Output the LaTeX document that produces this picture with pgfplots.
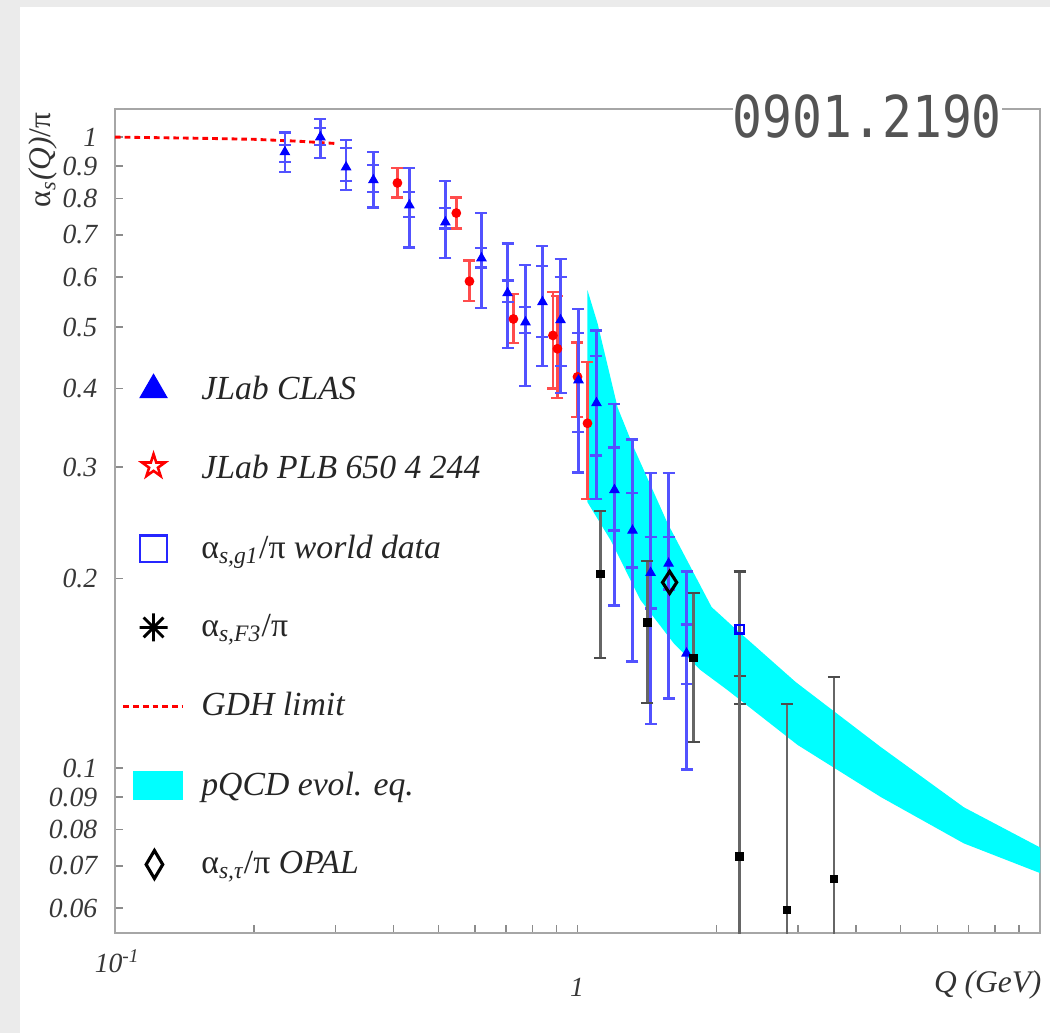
\documentclass[border=0pt]{standalone}
\usepackage{pgfplots}
\pgfplotsset{compat=1.18}
\usepackage{pgfplotstable}
\usepackage{fontspec}
\setmainfont{Liberation Serif}
\newfontfamily\labelmono[FakeStretch=0.86]{DejaVu Sans Mono}
\definecolor{bandcyan}{rgb}{0,1,1}
\definecolor{barblue}{rgb}{0.32,0.32,1}
\definecolor{barred}{rgb}{1,0.3,0.3}

% JLab CLAS: centre, outer (total) error range
\pgfplotstableread{
x y lo hi
0.233 0.947 0.880 1.018
0.278 1.000 0.926 1.068
0.316 0.896 0.824 0.989
0.362 0.855 0.774 0.947
0.433 0.780 0.669 0.893
0.518 0.733 0.643 0.852
0.620 0.643 0.536 0.758
0.706 0.566 0.463 0.679
0.772 0.509 0.403 0.627
0.840 0.548 0.434 0.672
0.919 0.513 0.393 0.641
1.005 0.412 0.294 0.534
1.099 0.379 0.267 0.494
1.202 0.276 0.181 0.3775
1.315 0.238 0.1477 0.332
1.439 0.204 0.1174 0.2935
1.574 0.211 0.129 0.2935
1.721 0.152 0.0996 0.205
}\clasouter
% JLab CLAS: inner (statistical) error range
\pgfplotstableread{
x y lo hi
0.233 0.947 0.913 0.971
0.278 1.000 0.971 1.033
0.316 0.896 0.852 0.961
0.362 0.855 0.818 0.903
0.433 0.780 0.747 0.818
0.518 0.733 0.717 0.772
0.620 0.643 0.622 0.667
0.706 0.566 0.548 0.593
0.772 0.509 0.489 0.538
0.840 0.548 0.482 0.625
0.919 0.513 0.434 0.600
1.005 0.412 0.341 0.489
1.099 0.379 0.313 0.450
1.202 0.276 0.238 0.322
1.315 0.238 0.208 0.273
1.439 0.204 0.179 0.2325
1.574 0.211 0.192 0.2325
1.721 0.152 0.136 0.169
}\clasinner
% JLab PLB 650 4 244
\pgfplotstableread{
x y lo hi
0.408 0.846 0.803 0.893
0.547 0.758 0.717 0.803
0.584 0.591 0.550 0.638
0.727 0.515 0.472 0.564
0.885 0.485 0.400 0.568
0.905 0.462 0.386 0.560
1.000 0.417 0.360 0.473
1.051 0.352 0.267 0.440
}\plb
% alpha_s,F3
\pgfplotstableread{
x y lo hi
1.121 0.203 0.1494 0.2555
1.417 0.170 0.1268 0.2128
1.783 0.1494 0.110 0.1894
2.242 0.0725 0.04 0.205
2.835 0.0596 0.04 0.1263
3.583 0.0667 0.04 0.1394
}\fthree
\pgfplotstableread{
x y lo hi
2.242 0.133 0.1263 0.140
}\fthreeinner

\begin{document}
\begin{tikzpicture}
\fill[black!8] (0,0) rectangle (367.5pt,361.55pt);
\fill[white] (7pt,0) rectangle (367.5pt,359.1pt);
\begin{axis}[
  at={(40.25pt,35pt)}, anchor=south west, scale only axis,
  width=323.75pt, height=288.4pt,
  xmode=log, ymode=log,
  xmin=0.1, xmax=10, ymin=0.0548, ymax=1.108,
  axis line style={black!35, line width=0.6pt},
  tick style={black!45, line width=0.5pt},
  tick align=inside, tick pos=left,
  major tick length=2.8pt, minor tick length=2.8pt,
  xtick={0.1,1,10}, xticklabels={},
  minor xtick={0.2,0.3,0.4,0.5,0.6,0.7,0.8,0.9,2,3,4,5,6,7,8,9},
  ytick={0.06,0.07,0.08,0.09,0.1,0.2,0.3,0.4,0.5,0.6,0.7,0.8,0.9,1},
  yticklabels={0.06,0.07,0.08,0.09,0.1,0.2,0.3,0.4,0.5,0.6,0.7,0.8,0.9,1},
  yminorticks=false,
  yticklabel style={font=\fontsize{9.7}{11}\selectfont\itshape, text=black!78, inner sep=0pt, xshift=-6pt},
  legend cell align=left,
  legend style={at={(axis description cs:-0.0023,0.6905)}, anchor=north west, draw=none, fill=none,
    font=\fontsize{11.8}{13}\selectfont\itshape, text=black!85,
    row sep=14.1pt,
    /tikz/every odd column/.append style={column sep=4.2pt}},
]
% pQCD band
\addplot[fill=bandcyan, draw=none, forget plot] coordinates {
(1.051,0.572) (1.105,0.507) (1.221,0.373) (1.322,0.3226) (1.566,0.2444)
(1.95,0.180) (2.176,0.1673) (2.964,0.1369) (4.527,0.108) (6.846,0.0867) (10,0.0749)
(10,0.0682) (6.846,0.076) (4.527,0.090) (2.994,0.1088) (2.112,0.1329)
(1.846,0.143) (1.614,0.1578) (1.369,0.1846) (1.179,0.2298) (1.051,0.2639) (1.051,0.572)
};
% GDH limit
\addplot[red, line width=1pt, dash pattern=on 2pt off 1.4pt, forget plot] coordinates {
(0.1,1.0) (0.15,0.996) (0.2,0.992) (0.25,0.985) (0.3,0.977)
};
% JLab PLB
\addplot[only marks, mark=*, mark size=1.5pt, red, forget plot,
  error bars/.cd, y dir=both, y explicit,
  error bar style={barred, line width=0.9pt},
  error mark options={rotate=90, barred, mark size=2.1pt, line width=0.9pt}]
  table[x=x, y=y, y error plus expr=\thisrow{hi}-\thisrow{y}, y error minus expr=\thisrow{y}-\thisrow{lo}] {\plb};
% JLab CLAS inner
\addplot[only marks, mark=*, mark size=0pt, barblue, forget plot,
  error bars/.cd, y dir=both, y explicit,
  error bar style={barblue, line width=0.9pt},
  error mark options={rotate=90, barblue, mark size=2.1pt, line width=0.9pt}]
  table[x=x, y=y, y error plus expr=\thisrow{hi}-\thisrow{y}, y error minus expr=\thisrow{y}-\thisrow{lo}] {\clasinner};
% JLab CLAS outer
\addplot[only marks, mark=triangle*, mark size=1.8pt, blue, forget plot,
  error bars/.cd, y dir=both, y explicit,
  error bar style={barblue, line width=0.9pt},
  error mark options={rotate=90, barblue, mark size=2.1pt, line width=0.9pt}]
  table[x=x, y=y, y error plus expr=\thisrow{hi}-\thisrow{y}, y error minus expr=\thisrow{y}-\thisrow{lo}] {\clasouter};
% alpha_s,F3
\addplot[only marks, mark=*, mark size=0pt, black, forget plot,
  error bars/.cd, y dir=both, y explicit,
  error bar style={black!60, line width=0.9pt},
  error mark options={rotate=90, black!70, mark size=2.1pt, line width=0.9pt}]
  table[x=x, y=y, y error plus expr=\thisrow{hi}-\thisrow{y}, y error minus expr=\thisrow{y}-\thisrow{lo}] {\fthreeinner};
\addplot[only marks, mark=square*, mark size=1.3pt, black, forget plot,
  error bars/.cd, y dir=both, y explicit,
  error bar style={black!60, line width=0.9pt},
  error mark options={rotate=90, black!70, mark size=2.1pt, line width=0.9pt}]
  table[x=x, y=y, y error plus expr=\thisrow{hi}-\thisrow{y}, y error minus expr=\thisrow{y}-\thisrow{lo}] {\fthree};
% world data
\addplot[only marks, mark=square, mark size=1.5pt, blue, line width=0.8pt, forget plot] coordinates {(2.242,0.166)};
% OPAL
\addplot[only marks, mark=diamond, mark size=3.85pt, black, line width=1.1pt, mark options={xscale=0.86}, forget plot] coordinates {(1.582,0.197)};

% legend
\addlegendimage{only marks, mark=triangle*, blue, mark size=5.4pt, mark options={xshift=-1.5pt}}
\addlegendentry{JLab CLAS}
\addlegendimage{legend image code/.code={
  \draw[red, fill=none, line width=0.9pt] (7.04pt,0pt) ++(90:5.3pt) -- ++(-0.95pt,-2.93pt) -- ++(-3.08pt,0pt) -- ++(2.49pt,-1.81pt) -- ++(-0.95pt,-2.93pt) -- ++(2.49pt,1.81pt) -- ++(2.49pt,-1.81pt) -- ++(-0.95pt,2.93pt) -- ++(2.49pt,1.81pt) -- ++(-3.08pt,0pt) -- cycle;}}
\addlegendentry{JLab PLB 650 4 244}
\addlegendimage{only marks, mark=square, blue!85, mark size=4.7pt, line width=0.9pt, mark options={xshift=-1.5pt}}
\addlegendentry{\upshape α\textsubscript{\itshape s,g1}/π \itshape world data}
\addlegendimage{legend image code/.code={
  \draw[black, line width=1pt] (2.14pt,0pt) -- (11.94pt,0pt) (7.04pt,-4.9pt) -- (7.04pt,4.9pt)
     (3.58pt,-3.46pt) -- (10.5pt,3.46pt) (3.58pt,3.46pt) -- (10.5pt,-3.46pt);
  \fill[black] (7.04pt,0pt) circle (1.1pt);}}
\addlegendentry{\upshape α\textsubscript{\itshape s,F3}/π}
\addlegendimage{legend image code/.code={
  \draw[red, line width=1pt, dash pattern=on 2pt off 1.4pt] (-3.5pt,0pt) -- (0.6cm,0pt);}}
\addlegendentry{GDH limit}
\addlegendimage{legend image code/.code={
  \fill[bandcyan] (0cm,-4.9pt) rectangle (0.6cm,4.9pt);}}
\addlegendentry{pQCD evol. eq.}
\addlegendimage{only marks, mark=diamond, black, mark size=4.9pt, line width=1.1pt, mark options={xscale=0.79, xshift=-1.5pt}}
\addlegendentry{\upshape α\textsubscript{\itshape s,τ}/π \itshape OPAL}
\end{axis}
% axis texts
\node[font=\fontsize{9.7}{11}\selectfont\itshape, text=black!78, anchor=base, inner sep=0pt] at (41.1pt,21pt) {10\textsuperscript{-1}};
\node[font=\fontsize{9.7}{11}\selectfont\itshape, text=black!78, anchor=base, inner sep=0pt] at (201.95pt,12.6pt) {1};
\node[font=\fontsize{11}{13}\selectfont\itshape, text=black!80, anchor=base east, inner sep=0pt] at (364.7pt,14pt) {Q (GeV)};
\node[font=\fontsize{11}{13}\selectfont, text=black!80, rotate=90, inner sep=0pt] at (15.05pt,305.55pt) {α\textsubscript{\itshape s}\textit{(Q)}/π};
\node[font=\labelmono\fontsize{20.2}{22}\selectfont, text=black!67, fill=white, inner sep=0pt, anchor=base] at (303.6pt,313.25pt) {0901.2190};
\pgfresetboundingbox
\path (0,0) rectangle (367.5pt,361.55pt);
\end{tikzpicture}
\end{document}
